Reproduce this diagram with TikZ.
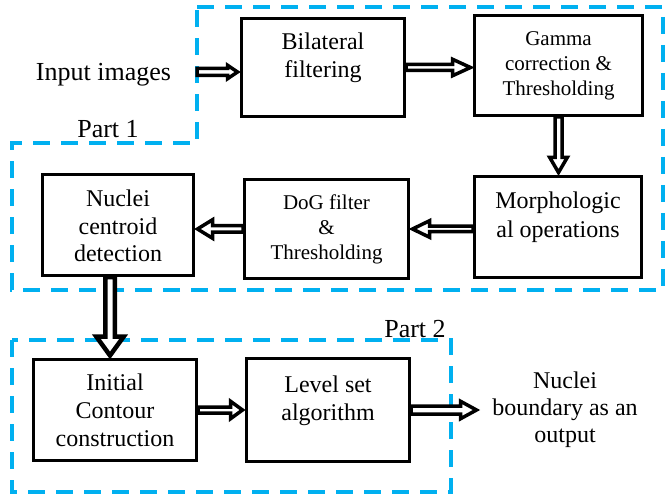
\documentclass[tikz,border=0pt]{standalone}
\usepackage{fontspec}
\setmainfont{Liberation Serif}
\usetikzlibrary{calc}
\definecolor{partblue}{RGB}{0,176,240}
\tikzset{
  box/.style={draw, line width=3pt, inner sep=0pt, align=center, font=\fontsize{24}{28}\selectfont},
  smallbox/.style={box, font=\fontsize{21}{25}\selectfont},
  lbl/.style={inner sep=0pt, font=\fontsize{26}{30}\selectfont},
  outlbl/.style={inner sep=0pt, align=center, font=\fontsize{24}{27}\selectfont},
  partline/.style={draw=partblue, line width=3.5pt, dash pattern=on 17pt off 11pt},
  barrow/.style={draw, fill=white, line width=3.5pt, line join=miter}
}
\newcommand\toprule{\rule{0pt}{20pt}}
% horizontal block arrow: start, end, dir(+1/-1), shaft half, head half, head length
\newcommand\harrow[7][]{%
  \draw[barrow,#1] let \p1=#2, \p2=#3 in
    (\x1,{\y1+#5pt}) -- ({\x2-(#4)*(#7pt+2.5pt)},{\y1+#5pt}) -- ({\x2-(#4)*(#7pt+2.5pt)},{\y1+#6pt})
    -- ({\x2-(#4)*2.5pt},\y1) -- ({\x2-(#4)*(#7pt+2.5pt)},{\y1-#6pt}) -- ({\x2-(#4)*(#7pt+2.5pt)},{\y1-#5pt})
    -- (\x1,{\y1-#5pt}) -- cycle;}
% vertical (downward) block arrow: start, end, shaft half, head half, head length
\newcommand\varrow[6][]{%
  \draw[barrow,#1] let \p1=#2, \p2=#3 in
    ({\x1-#4pt},\y1) -- ({\x1-#4pt},{\y2+#6pt+2.5pt}) -- ({\x1-#5pt},{\y2+#6pt+2.5pt})
    -- (\x1,{\y2+2.5pt}) -- ({\x1+#5pt},{\y2+#6pt+2.5pt}) -- ({\x1+#4pt},{\y2+#6pt+2.5pt})
    -- ({\x1+#4pt},\y1) -- cycle;}
\begin{document}
\begin{tikzpicture}[x=1pt,y=-1pt]
\useasboundingbox (0,0) rectangle (666,494);
% dashed regions
\draw[partline] (197,7) -- (663,7) -- (663,290) -- (12,290) -- (12,143) -- (197,143) -- cycle;
\draw[partline] (12,340) rectangle (451,492);
% labels
\node[lbl, anchor=base] (inp) at (103.5,81) {Input images};
\node[lbl, anchor=base] (p1) at (108,138) {Part 1};
\node[lbl, anchor=base] (p2) at (415,337) {Part 2};
% boxes
\node[box, minimum width=163pt, minimum height=98pt] (bil) at (323,67.5) {\toprule Bilateral\\filtering\\\mbox{}};
\node[smallbox, minimum width=168pt, minimum height=100pt] (gam) at (558.5,65.5) {Gamma\\correction \&\\Thresholding};
\node[box, minimum width=167pt, minimum height=101pt] (mor) at (558,227) {\toprule Morphologic\\al operations\\\mbox{}};
\node[smallbox, minimum width=164pt, minimum height=99pt] (dog) at (326.5,229) {DoG filter\\\&\\Thresholding};
\node[box, font=\fontsize{24}{27.5}\selectfont, minimum width=151pt, minimum height=101pt] (nuc) at (118,225) {\rule{0pt}{19pt}Nuclei\\centroid\\detection};
\node[box, minimum width=163pt, minimum height=101pt] (ini) at (115,410) {Initial\\Contour\\construction};
\node[box, minimum width=163pt, minimum height=103pt] (lev) at (328,410) {\toprule Level set\\algorithm\\\mbox{}};
\node[outlbl] (out) at (565,409.5) {Nuclei\\boundary as an\\output};
% connector helpers
\coordinate (inA) at (197,72);
\coordinate (v1) at ([xshift=-8pt]nuc.south);
\coordinate (outA) at (479,410);
% arrows
\harrow{(inA)}{(bil.west |- inA)}{1}{3.5}{6.75}{10}
\harrow{(bil.east)}{(gam.west |- bil.east)}{1}{3}{8.25}{18}
\varrow{(gam.south)}{(gam.south |- mor.north)}{3.5}{8.75}{15}
\harrow{(mor.west |- dog.east)}{(dog.east)}{-1}{2.75}{8.25}{17}
\harrow{(dog.west)}{(nuc.east |- dog.west)}{-1}{3.25}{9.25}{15}
\varrow[line width=4.5pt]{(v1)}{(v1 |- ini.north)}{4.75}{13.75}{19}
\harrow{(ini.east)}{(lev.west |- ini.east)}{1}{3}{8.75}{12}
\harrow{(lev.east)}{(outA)}{1}{4}{8.75}{16}
\end{tikzpicture}
\end{document}
